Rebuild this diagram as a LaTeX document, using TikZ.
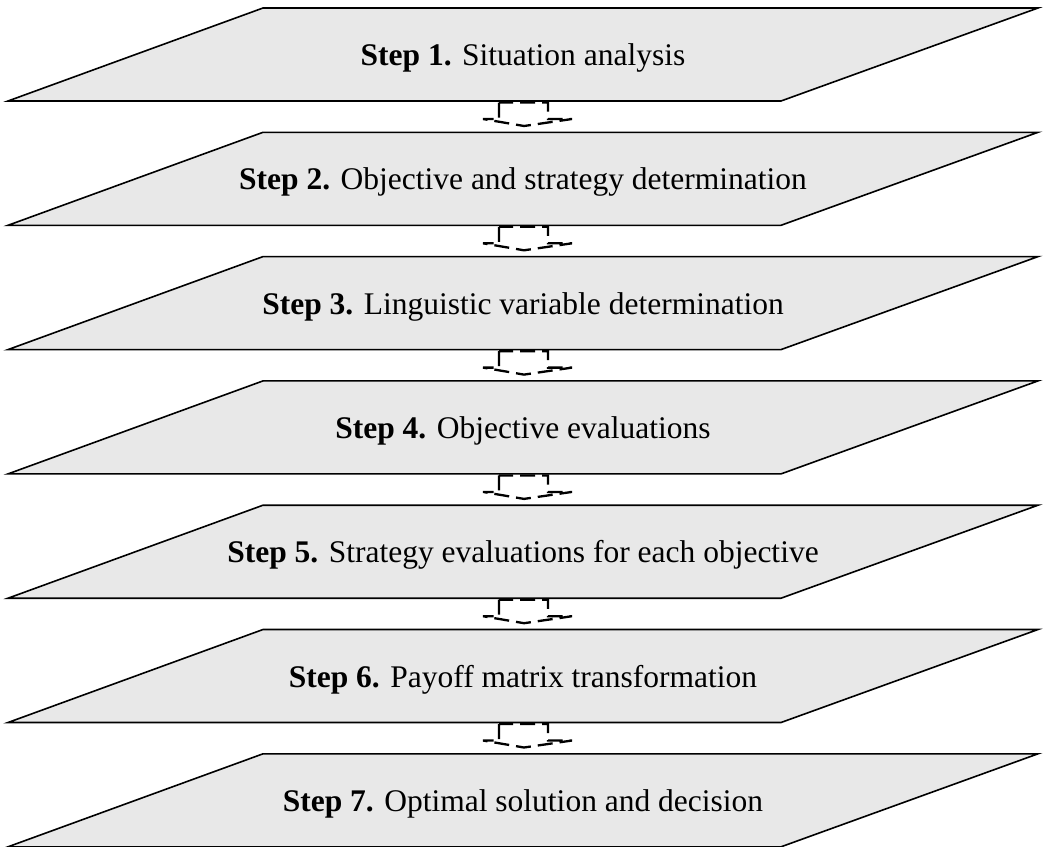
\documentclass[tikz,border=0pt]{standalone}
\usepackage{fontspec}
\setmainfont{Liberation Serif}
\begin{document}
\begin{tikzpicture}[x=1pt,y=-1pt,
  layer/.style={draw=black, fill=black!9, line width=1.6pt, line join=miter},
  steptext/.style={font=\fontsize{31.5}{36}\selectfont, inner sep=0pt},
  flow/.style={draw=black, line width=2.3pt, dash pattern=on 15pt off 7pt, line join=miter}]
\useasboundingbox (0,0) rectangle (1048,846);
\foreach \i/\t in {1/Situation analysis,
                   2/Objective and strategy determination,
                   3/Linguistic variable determination,
                   4/Objective evaluations,
                   5/Strategy evaluations for each objective,
                   6/Payoff matrix transformation,
                   7/Optimal solution and decision} {
  \pgfmathsetmacro{\ytop}{8+124.3*(\i-1)}
  \pgfmathsetmacro{\ybot}{\ytop+93}
  \path[layer] (263,\ytop) -- (1038,\ytop) -- (781,\ybot) -- (8,\ybot) -- cycle;
  \node[steptext] (s\i) at (523,\ytop+50) {\textbf{Step \i.} \t};
  \coordinate (b\i) at (524,\ybot);
}
\foreach \i in {1,...,6} {
  \draw[flow] ([xshift=-25pt,yshift=-1.5pt]b\i) -- ([xshift=-25pt,yshift=-18pt]b\i)
     -- ([xshift=-41pt,yshift=-18pt]b\i) -- ([yshift=-25pt]b\i)
     -- ([xshift=48pt,yshift=-18pt]b\i) -- ([xshift=24pt,yshift=-18pt]b\i)
     -- ([xshift=24pt,yshift=-1.5pt]b\i) -- cycle;
}
\end{tikzpicture}
\end{document}
